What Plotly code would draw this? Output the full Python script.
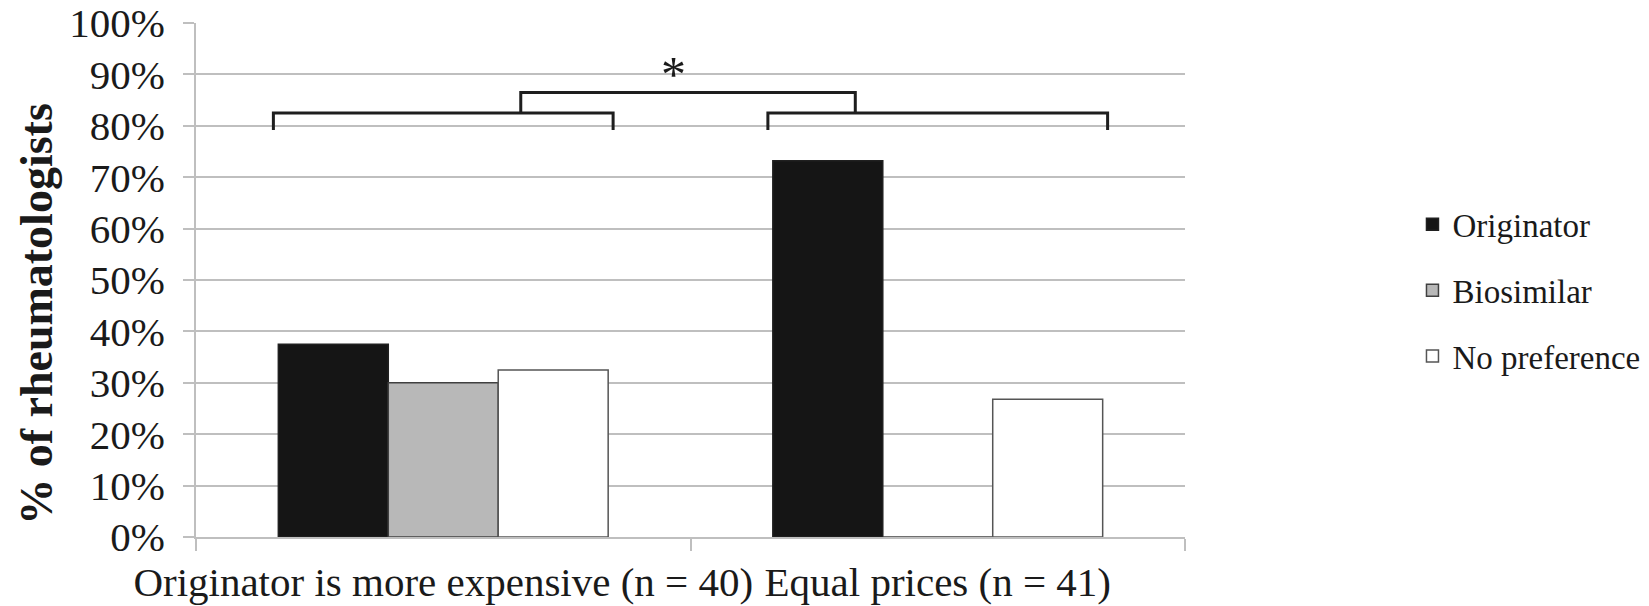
import plotly.graph_objects as go

categories = ["Originator is more expensive (n = 40)", "Equal prices (n = 41)"]
series_names = ["Originator", "Biosimilar", "No preference"]
originator = [37.5, 73.2]
biosimilar = [30.0, 0.0]
no_preference = [32.5, 26.8]
y_ticks = [0, 10, 20, 30, 40, 50, 60, 70, 80, 90, 100]
y_tick_labels = [f"{v}%" for v in y_ticks]
y_title = "% of rheumatologists"
star_label = "*"

FONT = "Liberation Serif, Times New Roman, serif"
TXT = "#1a1a1a"
fills = ["#151515", "#B8B8B8", "#FFFFFF"]
outlines = ["#202020", "#404040", "#555555"]
BARGAP = 0.333

fig = go.Figure()
for name, vals, fc, lc in zip(series_names, [originator, biosimilar, no_preference], fills, outlines):
    fig.add_trace(go.Bar(
        x=categories, y=vals, name=name, legendgroup=name,
        marker=dict(color=fc, line=dict(color=lc, width=1.5)),
    ))

half = (1 - BARGAP) / 2 + 0.01
leg_lo, leg_hi, top_y, top_leg = 79.2, 82.5, 86.5, 82.5
line_style = dict(color="#1e1e1e", width=3)

def bracket(x0, x1, ylo, yhi):
    fig.add_shape(type="path", xref="x", yref="y",
                  path=f"M {x0},{ylo} L {x0},{yhi} L {x1},{yhi} L {x1},{ylo}",
                  line=line_style)

bracket(0 - half, 0 + half, leg_lo, leg_hi)
bracket(1 - half, 1 + half, leg_lo, leg_hi)
bracket(half / 2 - 0.015, 1 - half / 2 + 0.005, top_leg, top_y)

fig.add_annotation(x=0.466, y=90.0, xref="x", yref="y", text=star_label, showarrow=False,
                   font=dict(family=FONT, size=50, color=TXT))
fig.add_annotation(x=-0.1606, y=0.4345, xref="paper", yref="paper", text=f"<b>{y_title}</b>",
                   textangle=-90, showarrow=False, xanchor="center", yanchor="middle",
                   font=dict(family=FONT, size=46, color=TXT))

fig.update_layout(
    width=1649, height=606,
    margin=dict(l=188, r=465, t=15, b=77),
    paper_bgcolor="white", plot_bgcolor="white",
    barmode="group", bargap=BARGAP, bargroupgap=0,
    font=dict(family=FONT, size=36, color=TXT),
    legend=dict(x=1.23, y=0.48, xanchor="left", yanchor="middle",
                font=dict(family=FONT, size=33, color=TXT),
                traceorder="grouped", tracegroupgap=20, itemwidth=30),
    showlegend=True,
)
fig.update_xaxes(type="category", tickson="boundaries", ticks="outside", ticklen=12,
                 tickcolor="#BFBFBF", tickwidth=2, showline=True, linecolor="#BFBFBF",
                 linewidth=2, showgrid=False, tickangle=0, automargin=False,
                 ticklabelstandoff=8, ticklabeloverflow="allow",
                 tickfont=dict(family=FONT, size=41, color=TXT),
                 range=[-0.5, 1.5])
fig.update_yaxes(range=[0, 100], tickvals=y_ticks, ticktext=y_tick_labels, ticks="outside",
                 ticklen=11, tickcolor="#BFBFBF", tickwidth=2, showgrid=True,
                 gridcolor="#BFBFBF", gridwidth=2, showline=True, linecolor="#BFBFBF",
                 linewidth=2, zeroline=False, automargin=False, ticklabelstandoff=10,
                 ticklabeloverflow="allow",
                 tickfont=dict(family=FONT, size=41, color=TXT))

fig.write_html("out.html")
